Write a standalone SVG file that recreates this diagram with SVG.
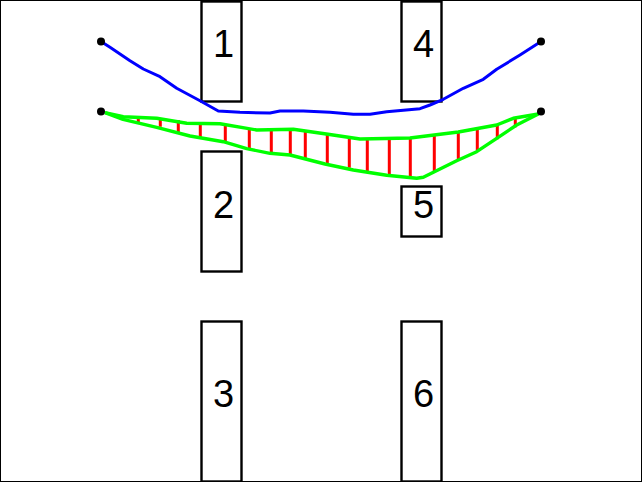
<svg xmlns="http://www.w3.org/2000/svg" width="642" height="482" viewBox="0 0 642 482">
<style>
.box{fill:none;stroke:#000;stroke-width:2.4}
.num{font-family:"Liberation Sans",Arial,sans-serif;font-size:38px;fill:#000}
.blue{fill:none;stroke:#0000ff;stroke-width:3;stroke-linejoin:round}
.green{fill:none;stroke:#00ff00;stroke-width:3.4;stroke-linejoin:round}
.red{fill:none;stroke:#ff0000;stroke-width:3}
.dot{fill:#000}
</style>
<rect width="642" height="482" fill="#fff"/>
<rect x="0.5" y="0.5" width="641" height="481" fill="none" stroke="#000"/>
<g id="node1"><rect class="box" x="201.5" y="1.5" width="40" height="100"/><text class="num" x="213" y="57">1</text></g>
<g id="node2"><rect class="box" x="201.5" y="151.5" width="40" height="120"/><text class="num" x="213" y="218">2</text></g>
<g id="node3"><rect class="box" x="201.5" y="321.5" width="40" height="160"/><text class="num" x="213" y="407">3</text></g>
<g id="node4"><rect class="box" x="401.5" y="1.5" width="40" height="100"/><text class="num" x="413" y="57">4</text></g>
<g id="node5"><rect class="box" x="401.5" y="186.5" width="40" height="50"/><text class="num" x="413" y="218">5</text></g>
<g id="node6"><rect class="box" x="401.5" y="321.5" width="40" height="160"/><text class="num" x="413" y="407">6</text></g>
<g id="connectors">
<path class="red" d="M138.3 117.3V122M160.3 118.3V126.7M178.3 120V132.3M200.3 122.7V137.3M225.3 124V142M249.3 128.7V149.3M271.3 129.3V152.7M290.3 129.3V154M305.3 131.7V158.3M327.3 133.3V163.3M349.3 136.7V167.7M367.3 138.7V172.7M389.3 137.3V175M410.3 138V176.7M434.3 135.3V171.7M458.3 132V160M477.3 129.3V150.7M497.3 124V139.3M515.3 117.7V127.3M533.3 114V116"/>
<polyline class="blue" points="101,41.5 110,47.3 130,60.7 143.3,69 160,76.7 176.7,88.3 200,100.7 218.3,111 240,112.3 270,113 280,111 303.3,111 330,112.3 353.3,114.3 370,114.3 386.7,111.7 420,108.7 430,105 443.3,99.3 463.3,88.3 483.3,79.3 496.7,69.3 520,55 541,41.5"/>
<polyline class="green" points="105,112.7 123.3,116.7 156.7,118.3 186.7,123.3 220,123.7 256.7,130 293.3,129.3 328,134.3 360,139 410,138 458.3,132 496.7,125 513.3,118.3 538.3,114"/>
<polyline class="green" points="105,112.7 123,119.3 156.7,127.3 190,136 223.3,141.7 246.7,148.7 270,153.3 290,155 325,164 353.3,170 386.7,175.3 416.7,178.3 423.3,177.3 456.7,160.7 476.7,151.7 496.7,138.3 516.7,125 538.3,114"/>
</g>
<g id="endpoints">
<circle class="dot" cx="101" cy="41.5" r="4"/>
<circle class="dot" cx="101" cy="111.5" r="4"/>
<circle class="dot" cx="541" cy="41.5" r="4"/>
<circle class="dot" cx="541" cy="111.5" r="4"/>
</g>
</svg>
